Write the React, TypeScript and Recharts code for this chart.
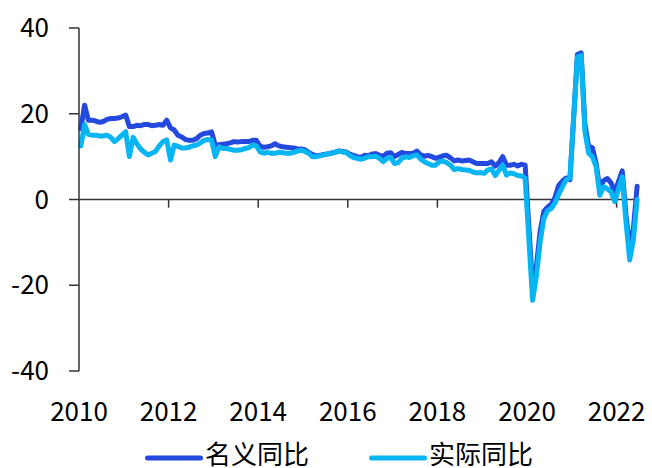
import React from "react";
import { Legend, Line, LineChart, ReferenceLine, XAxis, YAxis } from "recharts";

// Monthly YoY, Jan 2010 – Jun 2022. January is folded into February from 2020 on (null).
const YEARS = ["2010", "2012", "2014", "2016", "2018", "2020", "2022"];
const Y_TICKS = [-40, -20, 0, 20, 40];

// 名义同比
const NOMINAL: (number | null)[] = [
  16.5, 22.0, 18.5, 18.5, 18.3, 18.0, 18.2, 18.7, 18.9, 18.9, 19.0, 19.3,
  19.7, 17.0, 17.0, 17.3, 17.2, 17.5, 17.5, 17.2, 17.3, 17.5, 17.3, 18.5,
  16.7, 16.2, 15.0, 14.6, 14.0, 13.8, 13.8, 14.2, 15.0, 15.4, 15.5, 15.8,
  12.6, 12.8, 12.9, 13.0, 13.2, 13.5, 13.4, 13.5, 13.5, 13.5, 13.8, 13.8,
  12.4, 12.2, 12.3, 12.5, 13.0, 12.5, 12.3, 12.2, 12.1, 12.0, 11.8, 11.8,
  11.6, 11.0, 10.5, 10.2, 10.3, 10.5, 10.6, 10.8, 11.0, 11.3, 11.2, 11.1,
  10.6, 10.3, 10.0, 9.8, 10.3, 10.2, 10.6, 10.7, 10.3, 10.1, 10.8, 10.9,
  10.0, 10.5, 11.0, 10.7, 10.7, 10.8, 11.3, 10.4, 10.1, 10.3, 10.0, 9.6,
  9.9, 10.2, 10.3, 9.7, 9.0, 9.2, 9.0, 9.1, 9.2, 8.8, 8.4, 8.4,
  8.4, 8.4, 8.8, 7.8, 8.6, 10.0, 8.0, 8.0, 8.2, 7.8, 8.2, 8.0,
  null, -20.5, -15.8, -7.5, -2.8, -1.8, -1.1, 0.5, 3.3, 4.3, 5.0, 4.6,
  null, 33.8, 34.2, 17.7, 12.4, 12.1, 8.5, 2.5, 4.4, 4.9, 3.9, 1.7,
  null, 6.7, -3.5, -11.1, -6.7, 3.1,
];

// 实际同比
const REAL: (number | null)[] = [
  12.5, 17.5, 15.2, 15.0, 15.0, 14.8, 14.8, 15.0, 14.5, 13.5, 14.2, 15.0,
  15.8, 10.0, 14.5, 13.0, 11.8, 11.0, 10.4, 10.8, 11.2, 12.5, 13.5, 13.9,
  9.2, 12.7, 12.4, 12.0, 12.0, 12.2, 12.5, 12.7, 13.2, 13.8, 14.0, 13.9,
  10.0, 12.3, 11.9, 11.9, 11.7, 11.5, 11.5, 11.6, 11.9, 12.1, 12.7, 12.5,
  11.1, 10.8, 11.0, 10.8, 10.8, 11.0, 10.9, 10.8, 10.8, 11.0, 11.3, 11.5,
  11.2, 10.8, 10.0, 10.0, 10.2, 10.4, 10.6, 10.8, 11.0, 11.3, 11.1, 11.0,
  10.3, 9.8, 9.6, 9.4, 9.6, 10.0, 10.0, 10.1, 9.6, 8.8, 9.6, 9.8,
  8.4, 8.6, 9.6, 10.0, 9.8, 10.2, 10.4, 9.4, 8.8, 8.4, 8.0, 8.0,
  8.8, 9.0, 8.6, 8.0, 7.0, 7.2, 7.0, 6.9, 6.8, 6.4, 6.2, 6.3,
  6.1, 6.9, 7.1, 5.6, 6.8, 8.0, 5.7, 6.2, 6.0, 5.6, 5.5, 5.0,
  null, -23.5, -18.0, -10.0, -4.5, -2.6, -2.1, -0.8, 1.2, 3.0, 4.6, 5.0,
  null, 33.2, 33.6, 16.0, 10.8, 10.0, 7.7, 1.0, 3.0, 2.5, 1.8, -0.5,
  null, 5.3, -5.0, -14.1, -9.4, 0.0,
];

const SERIES = [
  { key: "nominal", name: "名义同比", color: "#2449DE" },
  { key: "real", name: "实际同比", color: "#08B5F3" },
];

const FONT = '"Noto Sans CJK SC", "Noto Sans", sans-serif';
const AXIS_COLOR = "#333";

// month index -> point in the middle of its slot, ticks sit on year boundaries
const data = NOMINAL.map((v, i) => ({ t: i + 0.5, nominal: v, real: REAL[i] }));
const xTicks = YEARS.map((_, k) => k * 24);

function LegendContent() {
  return (
    <div style={{ display: "flex", alignItems: "flex-start", fontSize: 26, lineHeight: "30px", color: "#000", whiteSpace: "nowrap" }}>
      {SERIES.map((s, idx) => (
        <div key={s.key} style={{ display: "flex", alignItems: "flex-start", marginLeft: idx ? 60 : 0 }}>
          <svg width={58} height={8} style={{ marginTop: 16 }}>
            <line x1={2.5} y1={4} x2={55.5} y2={4} stroke={s.color} strokeWidth={5} strokeLinecap="round" />
          </svg>
          <span style={{ marginLeft: 2 }}>{s.name}</span>
        </div>
      ))}
    </div>
  );
}

export default function App() {
  return (
    <div style={{ position: "absolute", left: 0, top: 0, width: 652, height: 468, background: "#fff", fontFamily: FONT }}>
      <LineChart width={652} height={468} data={data} margin={{ top: 28, right: 13, left: 0, bottom: 0 }}>
        <XAxis
          dataKey="t"
          type="number"
          domain={[0, NOMINAL.length]}
          ticks={xTicks}
          tickFormatter={(v: number) => YEARS[v / 24]}
          height={97}
          axisLine={false}
          tickLine={false}
          tickSize={0}
          tickMargin={32}
          interval={0}
          tick={{ fontSize: 26, fill: "#000", fontFamily: FONT }}
        />
        <YAxis
          width={79}
          domain={[-40, 40]}
          ticks={Y_TICKS}
          interval={0}
          axisLine={{ stroke: AXIS_COLOR, strokeWidth: 1.5 }}
          tickLine={{ stroke: AXIS_COLOR, strokeWidth: 1.5 }}
          tickSize={10}
          tickMargin={20}
          tick={{ fontSize: 26, fill: "#000", fontFamily: FONT }}
        />
        <ReferenceLine y={0} stroke={AXIS_COLOR} strokeWidth={1.5} />
        {xTicks.slice(1).map((x) => (
          <ReferenceLine
            key={x}
            segment={[{ x, y: 0 }, { x, y: -1.9 }]}
            stroke={AXIS_COLOR}
            strokeWidth={1.5}
          />
        ))}
        {SERIES.map((s) => (
          <Line
            key={s.key}
            type="linear"
            dataKey={s.key}
            name={s.name}
            stroke={s.color}
            strokeWidth={5}
            strokeLinejoin="round"
            strokeLinecap="round"
            dot={false}
            activeDot={false}
            connectNulls
            isAnimationActive={false}
          />
        ))}
        <Legend
          layout="horizontal"
          verticalAlign="middle"
          align="center"
          content={<LegendContent />}
          wrapperStyle={{ left: 145, top: 438, width: "auto" }}
        />
      </LineChart>
    </div>
  );
}
